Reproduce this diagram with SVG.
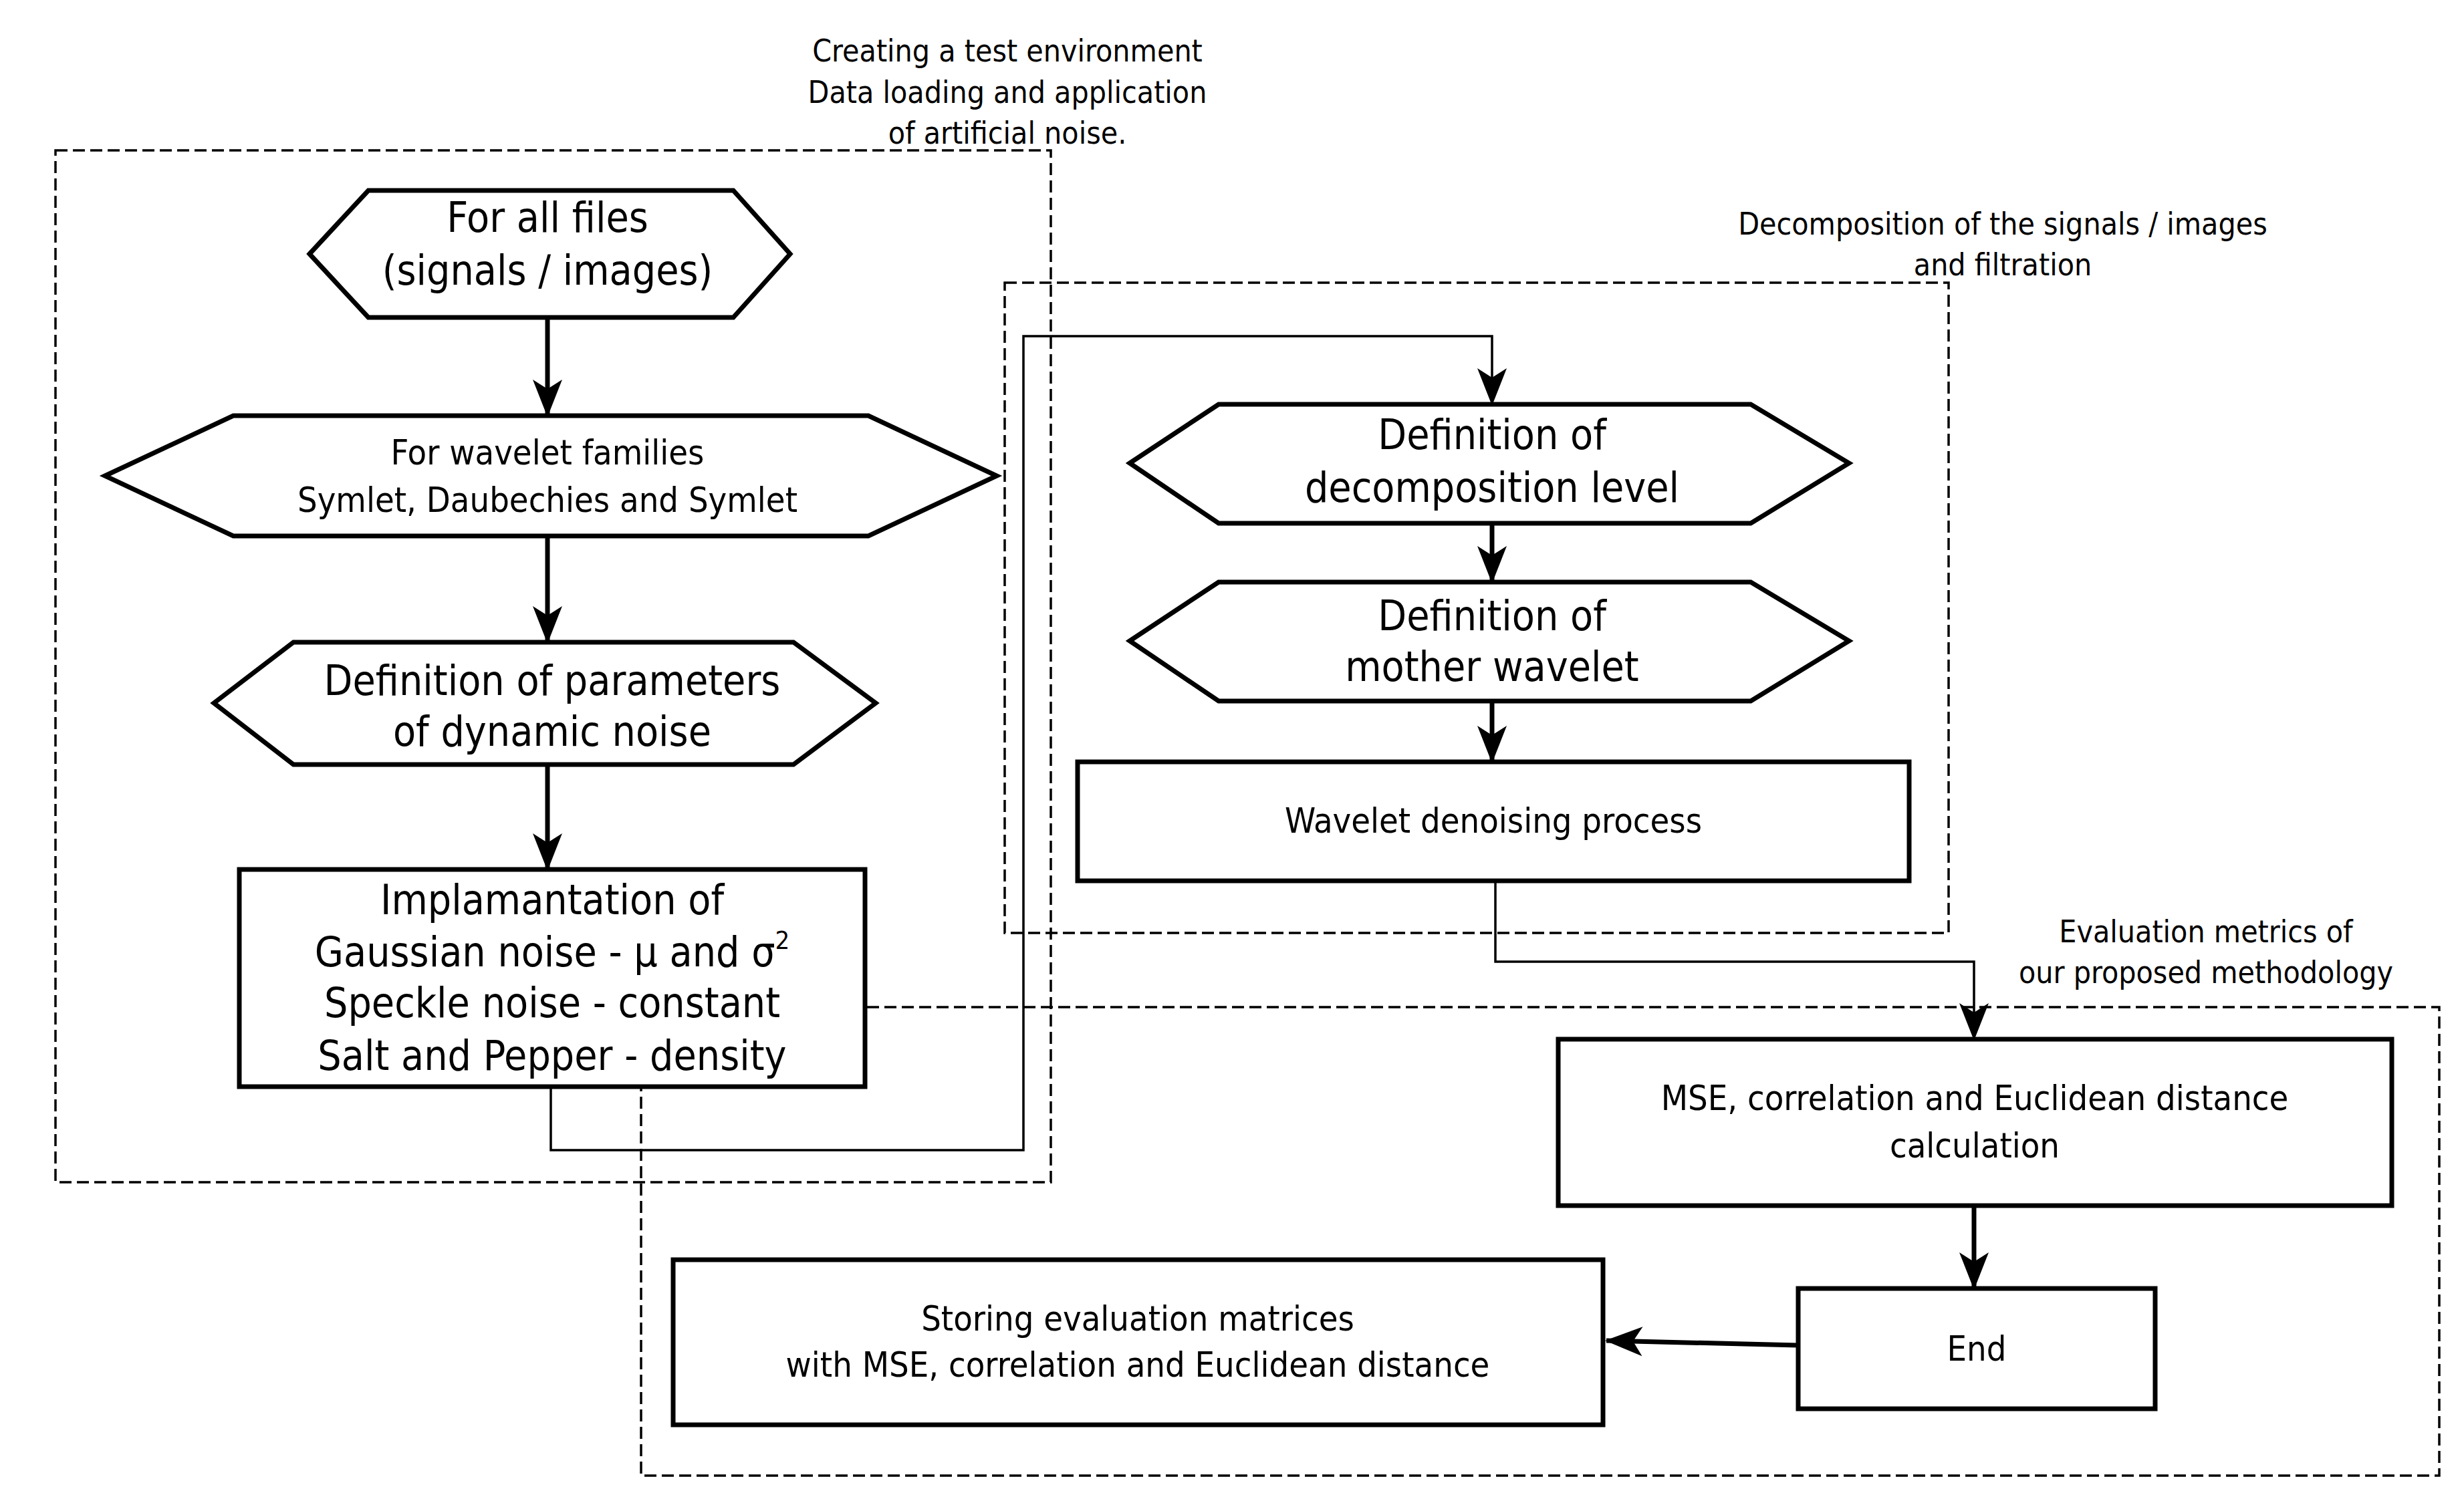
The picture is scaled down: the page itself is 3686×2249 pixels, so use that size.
<svg xmlns="http://www.w3.org/2000/svg" width="3686" height="2249" viewBox="0 0 3686 2249">
<style>
.n{fill:#fff;stroke:#000;stroke-width:7}
.d{fill:none;stroke:#000;stroke-width:3.5;stroke-dasharray:18 8}
.c{fill:none;stroke:#000;stroke-width:3.5}
.a{fill:none;stroke:#000;stroke-width:7}
text{font-family:"DejaVu Sans Condensed","DejaVu Sans",sans-serif;fill:#000;text-anchor:middle}
.big{font-size:62px}
.mid{font-size:52px}
.lab{font-size:46px}
</style>
<defs>
<marker id="ah" viewBox="-56 -24 60 48" refX="0" refY="0" markerWidth="60" markerHeight="48" markerUnits="userSpaceOnUse" orient="auto">
<path d="M2,0 L-54,-22 L-40,0 L-54,22 Z" fill="#000"/>
</marker>
</defs>
<rect width="3686" height="2249" fill="#fff"/>
<g id="groups">
<rect class="d" x="83" y="225" width="1489" height="1544"/>
<rect class="d" x="1503" y="423" width="1412" height="973"/>
<rect class="d" x="959" y="1507" width="2690" height="701"/>
<text class="lab" x="1507" y="92">Creating a test environment</text>
<text class="lab" x="1507" y="154">Data loading and application</text>
<text class="lab" x="1507" y="215">of artificial noise.</text>
<text class="lab" x="2996" y="351">Decomposition of the signals / images</text>
<text class="lab" x="2996" y="412">and filtration</text>
<text class="lab" x="3300" y="1410">Evaluation metrics of</text>
<text class="lab" x="3300" y="1471">our proposed methodology</text>
</g>
<g id="connectors">
<path class="a" d="M819,475 V622" marker-end="url(#ah)"/>
<path class="a" d="M819,802 V961" marker-end="url(#ah)"/>
<path class="a" d="M819,1144 V1301" marker-end="url(#ah)"/>
<path class="c" d="M824,1626 V1721 H1531 V503 H2232 V605" marker-end="url(#ah)"/>
<path class="a" d="M2232,783 V871" marker-end="url(#ah)"/>
<path class="a" d="M2232,1049 V1140" marker-end="url(#ah)"/>
<path class="c" d="M2237,1318 V1439 H2953 V1555" marker-end="url(#ah)"/>
<path class="a" d="M2953,1804 V1928" marker-end="url(#ah)"/>
<path class="a" d="M2690,2013 L2403,2006" marker-end="url(#ah)"/>
</g>
<g id="n1">
<polygon class="n" points="463,380 551,285 1097,285 1182,380 1097,475 551,475"/>
<text class="big" x="819" y="347">For all files</text>
<text class="big" x="819" y="426">(signals / images)</text>
</g>
<g id="n2">
<polygon class="n" points="157,712 349,622 1299,622 1491,712 1299,802 349,802"/>
<text class="mid" x="819" y="695">For wavelet families</text>
<text class="mid" x="819" y="766">Symlet, Daubechies and Symlet</text>
</g>
<g id="n3">
<polygon class="n" points="320,1052 439,961 1187,961 1310,1052 1187,1144 439,1144"/>
<text class="big" x="826" y="1040">Definition of parameters</text>
<text class="big" x="826" y="1116">of dynamic noise</text>
</g>
<g id="n4">
<rect class="n" x="358" y="1301" width="936" height="325"/>
<text class="big" x="826" y="1368">Implamantation of</text>
<text class="big" x="826" y="1446">Gaussian noise - μ and σ<tspan font-size="38" dy="-26">2</tspan></text>
<text class="big" x="826" y="1522">Speckle noise - constant</text>
<text class="big" x="826" y="1601">Salt and Pepper - density</text>
</g>
<g id="n5">
<polygon class="n" points="1690,693 1823,605 2619,605 2766,693 2619,783 1823,783"/>
<text class="big" x="2232" y="672">Definition of</text>
<text class="big" x="2232" y="751">decomposition level</text>
</g>
<g id="n6">
<polygon class="n" points="1690,959 1823,871 2619,871 2766,959 2619,1049 1823,1049"/>
<text class="big" x="2232" y="943">Definition of</text>
<text class="big" x="2232" y="1019">mother wavelet</text>
</g>
<g id="n7">
<rect class="n" x="1612" y="1140" width="1244" height="178"/>
<text class="mid" x="2234" y="1246">Wavelet denoising process</text>
</g>
<g id="n8">
<rect class="n" x="2331" y="1555" width="1247" height="249"/>
<text class="mid" x="2954" y="1661">MSE, correlation and Euclidean distance</text>
<text class="mid" x="2954" y="1732">calculation</text>
</g>
<g id="n9">
<rect class="n" x="2690" y="1928" width="534" height="180"/>
<text class="mid" x="2957" y="2036">End</text>
</g>
<g id="n10">
<rect class="n" x="1007" y="1885" width="1391" height="247"/>
<text class="mid" x="1702" y="1991">Storing evaluation matrices</text>
<text class="mid" x="1702" y="2060">with MSE, correlation and Euclidean distance</text>
</g>
</svg>
